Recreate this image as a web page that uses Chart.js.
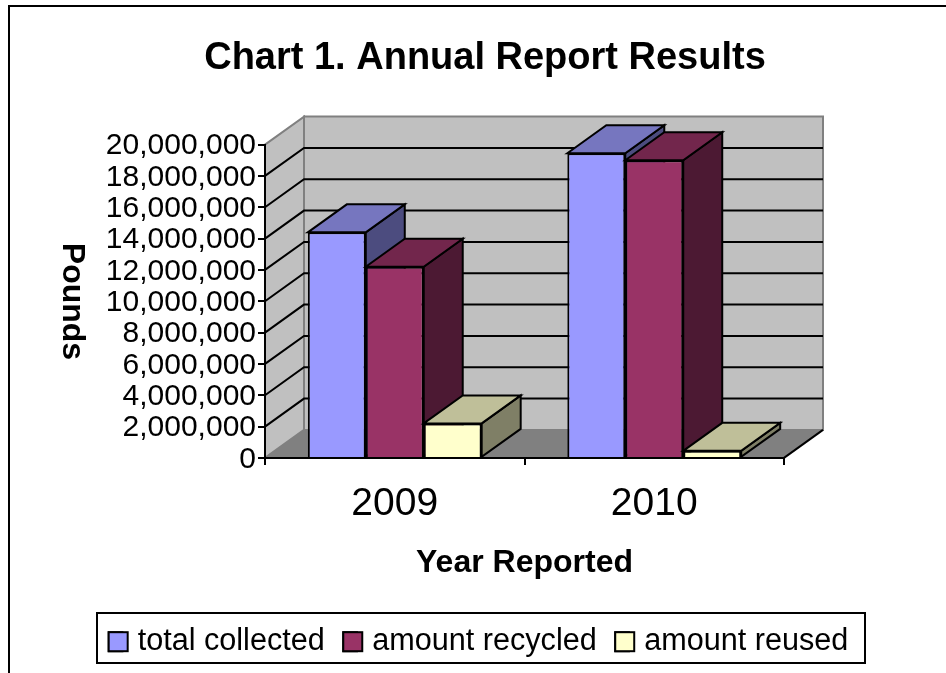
<!DOCTYPE html>
<html>
<head>
<meta charset="utf-8">
<title>Chart 1. Annual Report Results</title>
<style>
  html, body { margin: 0; padding: 0; background: #fff; }
  #wrap { position: relative; width: 946px; height: 673px; overflow: hidden; }
</style>
</head>
<body>
<div id="wrap"><canvas id="chart"></canvas></div>
<script src="https://cdn.jsdelivr.net/npm/chart.js@4/dist/chart.umd.min.js"></script>
<script>
const categories = ['2009', '2010'];
const totalCollected = [14400000, 19450000];
const amountRecycled = [12200000, 19000000];
const amountReused = [2200000, 450000];
const yTicks = [0, 2000000, 4000000, 6000000, 8000000, 10000000, 12000000, 14000000, 16000000, 18000000, 20000000];

const FONT = "'Liberation Sans', Arial, sans-serif";
// fake 3d offset of the back wall
const DX = 39, DY = -28;
const SWATCH = 19;

function poly(ctx, pts, fill, stroke, lw) {
    ctx.beginPath();
    pts.forEach((p, i) => i ? ctx.lineTo(p[0], p[1]) : ctx.moveTo(p[0], p[1]));
    ctx.closePath();
    if (fill) { ctx.fillStyle = fill; ctx.fill(); }
    if (stroke) { ctx.strokeStyle = stroke; ctx.lineWidth = lw || 1; ctx.stroke(); }
}

const box3d = {
    id: 'box3d',
    afterLayout(chart) {
        // legend row sits a bit left of the title in the original
        chart.legend.left -= 6.5;
        chart.legend.right -= 6.5;
    },
    beforeDraw(chart) {
        const { ctx, chartArea: a, scales: { y } } = chart;
        ctx.save();
        // outer frame
        ctx.strokeStyle = '#000';
        ctx.lineWidth = 2;
        ctx.beginPath();
        ctx.moveTo(9, 673); ctx.lineTo(9, 6); ctx.lineTo(946, 6);
        ctx.stroke();
        // walls and floor
        const t = a.top, b = a.bottom, l = a.left, r = a.right;
        poly(ctx, [[l, t], [l + DX, t + DY], [l + DX, b + DY], [l, b]], '#c0c0c0', '#808080', 2);
        poly(ctx, [[l + DX, t + DY], [r + DX, t + DY], [r + DX, b + DY], [l + DX, b + DY]], '#c0c0c0', '#808080', 2);
        poly(ctx, [[l, b], [l + DX, b + DY], [r + DX, b + DY], [r, b]], '#808080');
        // gridlines run along the side wall then the back wall
        ctx.strokeStyle = '#000';
        ctx.lineWidth = 2;
        yTicks.forEach(v => {
            if (v === 0 || v === yTicks[yTicks.length - 1]) return;
            const py = y.getPixelForValue(v);
            ctx.beginPath();
            ctx.moveTo(l, py);
            ctx.lineTo(l + DX, py + DY);
            ctx.lineTo(r + DX, py + DY);
            ctx.stroke();
        });
        ctx.beginPath();
        ctx.moveTo(r, b);
        ctx.lineTo(r + DX, b + DY);
        ctx.stroke();
        ctx.restore();
    },
    // bars have to be painted left to right so the side faces overlap correctly
    beforeDatasetsDraw(chart) {
        const { ctx } = chart;
        ctx.save();
        categories.forEach((c, i) => {
            chart.data.datasets.forEach((ds, d) => {
                const bar = chart.getDatasetMeta(d).data[i];
                const { x, y, base, width } = bar.getProps(['x', 'y', 'base', 'width']);
                const x0 = x - width / 2, x1 = x + width / 2;
                poly(ctx, [[x1, y], [x1 + DX, y + DY], [x1 + DX, base + DY], [x1, base]], ds.sideColor, '#000', 2);
                poly(ctx, [[x0, y], [x0 + DX, y + DY], [x1 + DX, y + DY], [x1, y]], ds.topColor, '#000', 2);
                bar.draw(ctx);
            });
        });
        ctx.restore();
        return false;
    },
    afterDraw(chart) {
        const { ctx } = chart;
        ctx.save();
        // Pounds reads top to bottom, library title only rotates the other way
        ctx.translate(71.5, 301.5);
        ctx.rotate(Math.PI / 2);
        ctx.font = 'bold 32px ' + FONT;
        ctx.fillStyle = '#000';
        ctx.textAlign = 'center';
        ctx.textBaseline = 'middle';
        ctx.fillText('Pounds', 0, 0);
        ctx.restore();
        // legend frame and swatches (gap to the text is tighter than the library allows)
        ctx.save();
        ctx.strokeStyle = '#000';
        ctx.lineWidth = 2;
        ctx.strokeRect(97, 613, 768, 50);
        chart.legend.legendHitBoxes.forEach((hit, i) => {
            const top = hit.top + (hit.height - SWATCH) / 2;
            ctx.fillStyle = chart.data.datasets[i].backgroundColor;
            ctx.fillRect(hit.left, top, SWATCH, SWATCH);
            ctx.strokeRect(hit.left, top, SWATCH, SWATCH);
        });
        ctx.restore();
    }
};

new Chart(document.getElementById('chart'), {
    type: 'bar',
    data: {
        labels: categories,
        datasets: [
            { label: 'total collected', data: totalCollected, backgroundColor: '#9999ff', topColor: '#7676bf', sideColor: '#4c4c7f' },
            { label: 'amount recycled', data: amountRecycled, backgroundColor: '#993366', topColor: '#72264c', sideColor: '#4c1933' },
            { label: 'amount reused', data: amountReused, backgroundColor: '#ffffcc', topColor: '#bfbf99', sideColor: '#7f7f66' }
        ]
    },
    plugins: [box3d],
    options: {
        responsive: true,
        maintainAspectRatio: false,
        animation: false,
        datasets: {
            bar: {
                borderColor: '#000',
                borderWidth: 2,
                categoryPercentage: 0.67,
                barPercentage: 1
            }
        },
        layout: { padding: { left: 24, right: 0, top: 0, bottom: 6 } },
        plugins: {
            tooltip: { enabled: false },
            title: {
                display: true,
                text: 'Chart 1. Annual Report Results',
                color: '#000',
                font: { family: FONT, size: 38, weight: 'bold' },
                padding: { top: 36, bottom: 63 }
            },
            legend: {
                position: 'bottom',
                onClick: null,
                labels: {
                    color: '#000',
                    font: { family: FONT, size: 30.6 },
                    boxWidth: 13.7,
                    boxHeight: SWATCH,
                    padding: 18.5
                }
            }
        },
        scales: {
            x: {
                grid: { drawOnChartArea: false, color: '#000', lineWidth: 2, tickLength: 7 },
                border: { display: true, color: '#000', width: 2 },
                ticks: { color: '#000', font: { family: FONT, size: 39 }, padding: 16 },
                title: {
                    display: true,
                    text: 'Year Reported',
                    color: '#000',
                    font: { family: FONT, size: 32, weight: 'bold' },
                    padding: { top: 10, bottom: 26 }
                },
                afterFit(scale) { scale.height = 150; }
            },
            y: {
                min: 0,
                max: 20000000,
                afterBuildTicks(scale) { scale.ticks = yTicks.map(v => ({ value: v })); },
                grid: { drawOnChartArea: false, color: '#000', lineWidth: 2, tickLength: 7 },
                border: { display: true, color: '#000', width: 2 },
                ticks: {
                    color: '#000',
                    font: { family: FONT, size: 30 },
                    padding: 2,
                    labelOffset: 1.5,
                    autoSkip: false,
                    callback: v => v.toLocaleString('en-US')
                },
                afterFit(scale) { scale.width = 241; }
            },
            // empty axis, only reserves the white strip right of the plot
            spacer: {
                axis: 'y',
                position: 'right',
                grid: { display: false },
                border: { display: false },
                ticks: { display: false },
                afterFit(scale) { scale.width = 162; }
            }
        }
    }
});
</script>
</body>
</html>
